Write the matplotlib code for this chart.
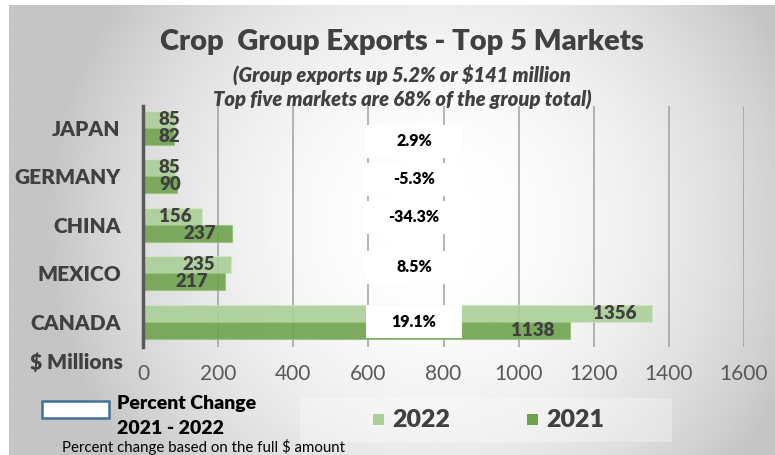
import matplotlib.pyplot as plt
import matplotlib.patches as mpatches
import numpy as np

# ----------------------------------- data -----------------------------------
markets = ['JAPAN', 'GERMANY', 'CHINA', 'MEXICO', 'CANADA']
exports_2022 = [85, 85, 156, 235, 1356]
exports_2021 = [82, 90, 237, 217, 1138]
pct_change = ['2.9%', '-5.3%', '-34.3%', '8.5%', '19.1%']
x_ticks = [0, 200, 400, 600, 800, 1000, 1200, 1400, 1600]

# ----------------------------------- style -----------------------------------
plt.rcParams['font.family'] = ['Lato', 'DejaVu Sans']
W, H = 775, 455
c_2022 = '#aacf98'
c_2021 = '#6fa34f'
txt = '#404040'
bold = 'heavy'
bar_h = 0.35
pct_nudge = [0.28, 0.06, -0.16, -0.12, 0.0]   # vertical nudge of the % boxes


def fx(px):
    return px / W


def fy(py):
    return 1 - py / H


fig = plt.figure(figsize=(W / 100, H / 100), dpi=100, facecolor='white')

# background: radial grey -> white gradient
bg = fig.add_axes([0, 0, 1, 1], zorder=-10)
gx, gy = np.meshgrid(np.linspace(0, W, 300), np.linspace(0, H, 200))
d = np.sqrt(((gx - 430) / 330) ** 2 + ((gy - 220) / 330) ** 2)
shade = 1 - 0.16 * np.clip(d, 0, 1.2) ** 2
bg.imshow(shade, cmap='gray', vmin=0, vmax=1, extent=[9, W, H, 5],
          aspect='auto', interpolation='bilinear')
bg.set_xlim(0, W)
bg.set_ylim(H, 0)
bg.axis('off')
# faint legend panel
bg.add_patch(mpatches.Rectangle((300, 398), 372, 44, facecolor='white',
                                alpha=0.3, edgecolor='none'))

# ----------------------------------- bars -----------------------------------
ax = fig.add_axes([fx(143), fy(347), fx(744) - fx(143), (347 - 106) / H])
ax.set_facecolor('none')
y = np.arange(len(markets))

b22 = ax.barh(y - bar_h / 2, exports_2022, height=bar_h, color=c_2022, alpha=0.9,
              edgecolor='#d0e6c4', linewidth=0.8, zorder=3)
b21 = ax.barh(y + bar_h / 2, exports_2021, height=bar_h, color=c_2021, alpha=0.9,
              edgecolor='#96c37c', linewidth=0.8, zorder=3)

for bars, vals in [(b22, exports_2022), (b21, exports_2021)]:
    for bar, v in zip(bars, vals):
        cy = bar.get_y() + bar.get_height() / 2
        if v < 180:
            ax.annotate(str(v), (0, cy), xytext=(11.5, 0), textcoords='offset points',
                        ha='left', va='center', fontsize=13.5, fontweight=bold,
                        color=txt, zorder=5)
        else:
            ax.annotate(str(v), (v, cy), xytext=(-11.5, 0), textcoords='offset points',
                        ha='right', va='center', fontsize=13.5, fontweight=bold,
                        color=txt, zorder=5)

# percent change boxes
box_l, box_r = 595, 848
for i, (p, n) in enumerate(zip(pct_change, pct_nudge)):
    cy = i + n
    ax.add_patch(mpatches.Rectangle((box_l, cy - 0.34), box_r - box_l, 0.68,
                                    facecolor='white', edgecolor='none', zorder=4))
    ax.text((box_l + box_r) / 2, cy, p, ha='center', va='center', fontsize=11.5,
            fontweight=bold, color='black', zorder=6)

ax.set_xlim(0, 1600)
ax.set_ylim(4.52, -0.45)
ax.set_xticks(x_ticks)
ax.set_xticklabels([str(t) for t in x_ticks])
ax.set_yticks(y)
ax.set_yticklabels(markets)
ax.tick_params(axis='x', length=0, pad=12, labelsize=15, labelcolor='#595959')
ax.tick_params(axis='y', length=0, pad=16)
for lab in ax.get_yticklabels():
    lab.set_fontweight(bold)
    lab.set_fontsize(15)
    lab.set_color(txt)
ax.grid(axis='x', color='#a0a0a0', linewidth=1.1, zorder=0)
ax.set_axisbelow(True)
for s in ['top', 'right', 'bottom']:
    ax.spines[s].set_visible(False)
ax.spines['left'].set_color('#595959')
ax.spines['left'].set_linewidth(2.5)
ax.spines['left'].set_zorder(6)

# ----------------------------------- texts -----------------------------------
fig.text(fx(402), fy(42), 'Crop  Group Exports - Top 5 Markets', ha='center',
         va='center', fontsize=21, fontweight=bold, color=txt)
fig.text(fx(402), fy(75), '(Group exports up 5.2% or $141 million', ha='center',
         va='center', fontsize=14.5, fontweight=bold, style='italic', color=txt)
fig.text(fx(402), fy(100), 'Top five markets are 68% of the group total)', ha='center',
         va='center', fontsize=14.5, fontweight=bold, style='italic', color=txt)
fig.text(fx(123), fy(362), '$ Millions', ha='right', va='center', fontsize=15,
         fontweight=bold, color=txt)

# legend
fig.patches.append(mpatches.Rectangle((fx(42), fy(418)), fx(67), 17 / H,
                                      transform=fig.transFigure, facecolor='white',
                                      edgecolor='#41719c', linewidth=1.8))
fig.text(fx(117), fy(404), 'Percent Change', ha='left', va='center', fontsize=14,
         fontweight=bold, color='black')
fig.text(fx(117), fy(429), '2021 - 2022', ha='left', va='center', fontsize=14,
         fontweight=bold, color='black')
fig.text(fx(62), fy(447), 'Percent change based on the full $ amount', ha='left',
         va='center', fontsize=10.8, color='black')

for lx, col, lab in [(373, c_2022, '2022'), (527, c_2021, '2021')]:
    fig.patches.append(mpatches.Rectangle((fx(lx), fy(425)), fx(11), 11 / H,
                                          transform=fig.transFigure, facecolor=col,
                                          edgecolor='none'))
    fig.text(fx(lx + 19), fy(420), lab, ha='left', va='center', fontsize=18,
             fontweight=bold, color=txt)

fig.savefig('out.png', dpi=100)
